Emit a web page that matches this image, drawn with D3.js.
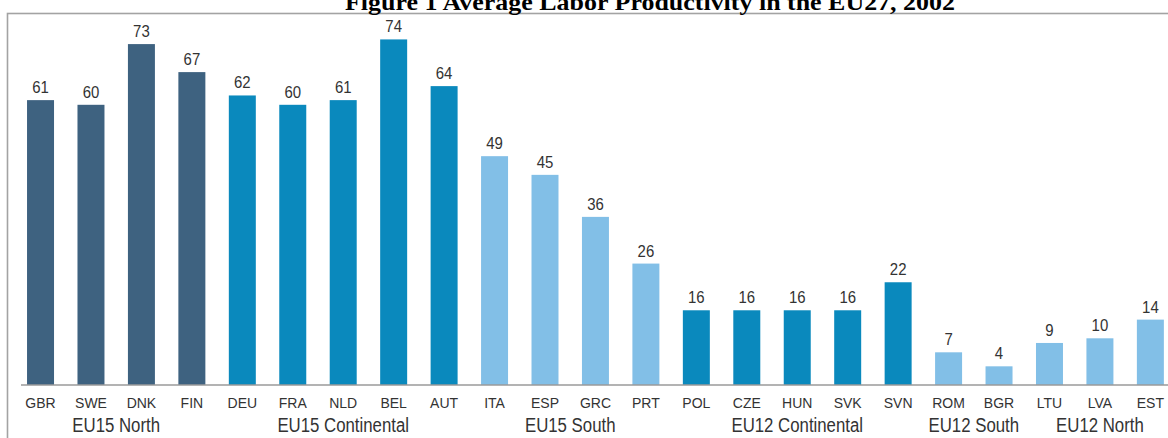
<!DOCTYPE html>
<html><head><meta charset="utf-8">
<script src="https://cdn.jsdelivr.net/npm/d3@7"></script>
<style>
html,body{margin:0;padding:0;background:#fff;}
svg{display:block;}
</style></head>
<body>
<svg id="chart" width="1168" height="438"></svg>
<script>
const countries = ["GBR","SWE","DNK","FIN","DEU","FRA","NLD","BEL","AUT","ITA","ESP","GRC","PRT","POL","CZE","HUN","SVK","SVN","ROM","BGR","LTU","LVA","EST"];
const values = [61,60,73,67,62,60,61,74,64,49,45,36,26,16,16,16,16,22,7,4,9,10,14];
const groups = ["EU15 North","EU15 North","EU15 North","EU15 North","EU15 Continental","EU15 Continental","EU15 Continental","EU15 Continental","EU15 Continental","EU15 South","EU15 South","EU15 South","EU15 South","EU12 Continental","EU12 Continental","EU12 Continental","EU12 Continental","EU12 Continental","EU12 South","EU12 South","EU12 North","EU12 North","EU12 North"];
const groupNames = ["EU15 North","EU15 Continental","EU15 South","EU12 Continental","EU12 South","EU12 North"];
const groupColors = ["#3e6280","#0a89bd","#82bfe7","#0a89bd","#82bfe7","#82bfe7"];
const title = "Figure 1 Average Labor Productivity in the EU27, 2002";

const svg = d3.select("#chart");
const W = 1168, H = 438;

const x = d3.scaleBand().domain(countries).range([11.9, 1179]).paddingInner(0.465).paddingOuter(0.3);
const y = d3.scaleLinear().domain([0, 80]).range([385, 11.4]);
const color = d3.scaleOrdinal().domain(groupNames).range(groupColors);

// frame
svg.append("rect").attr("x", 7.5).attr("y", 13.5).attr("width", W + 20).attr("height", H + 20)
  .attr("fill", "#fff").attr("stroke", "#a3a3a3").attr("stroke-width", 1.6);

// title (partly cut at the top edge, as in the reference)
svg.append("text").attr("x", 345).attr("y", 10)
  .attr("textLength", 610).attr("lengthAdjust", "spacingAndGlyphs")
  .style("font-family", "'Liberation Serif','Times New Roman',serif")
  .style("font-weight", "bold").style("font-size", "23px").attr("fill", "#000")
  .text(title);

const data = countries.map((c, i) => ({c, v: values[i], g: groups[i]}));

// bars
svg.append("g").selectAll("rect").data(data).join("rect")
  .attr("x", d => x(d.c)).attr("width", x.bandwidth())
  .attr("y", d => y(d.v)).attr("height", d => y(0) - y(d.v))
  .attr("fill", d => color(d.g));

// value labels
svg.append("g").selectAll("g").data(data).join("g")
  .attr("transform", d => `translate(${x(d.c) + x.bandwidth()/2},${y(d.v) - 7}) scale(0.88,1)`)
  .append("text").attr("text-anchor", "middle")
  .style("font-family", "'Liberation Sans',Arial,sans-serif").style("font-size", "17px")
  .attr("fill", "#333").text(d => d.v);

// baseline axis
const axis = d3.axisBottom(x).tickSize(0).tickPadding(14);
const ax = svg.append("g").attr("transform", `translate(0,${y(0)})`).call(axis);
ax.select(".domain").attr("stroke", "#9a9a9a").attr("stroke-width", 1.6)
  .attr("d", `M21,0H${W + 20}`);
ax.selectAll("text")
  .style("font-family", "'Liberation Sans',Arial,sans-serif").style("font-size", "14px")
  .attr("fill", "#333").attr("dy", "0.35em").attr("y", 18);

// group labels
const groupCenters = groupNames.map(g => {
  const members = data.filter(d => d.g === g);
  const first = x(members[0].c), last = x(members[members.length - 1].c) + x.bandwidth();
  return {g, cx: (first + last) / 2};
});
svg.append("g").selectAll("g").data(groupCenters).join("g")
  .attr("transform", d => `translate(${d.cx},${432}) scale(0.8,1)`)
  .append("text").attr("text-anchor", "middle")
  .style("font-family", "'Liberation Sans',Arial,sans-serif").style("font-size", "21px")
  .attr("fill", "#333").text(d => d.g);
</script>
</body></html>
